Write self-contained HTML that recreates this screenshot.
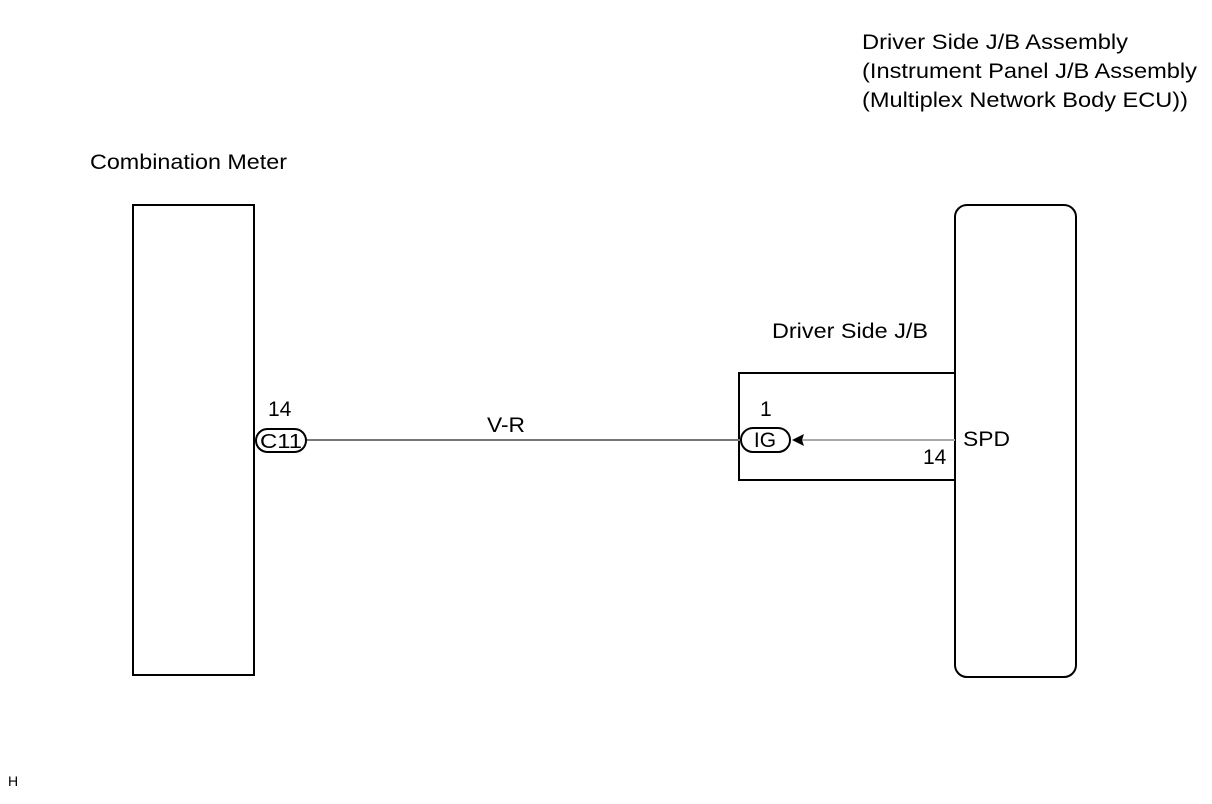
<!DOCTYPE html>
<html><head><meta charset="utf-8"><style>body{margin:0;background:#fff}svg{display:block}text{font-family:"Liberation Sans",Arial,sans-serif;fill:#000}</style></head>
<body>
<svg width="1212" height="804" viewBox="0 0 1212 804">
<text x="862" y="49" font-size="21" textLength="266" lengthAdjust="spacingAndGlyphs">Driver Side J/B Assembly</text>
<text x="862" y="78" font-size="21" textLength="335" lengthAdjust="spacingAndGlyphs">(Instrument Panel J/B Assembly</text>
<text x="862" y="107" font-size="21" textLength="326" lengthAdjust="spacingAndGlyphs">(Multiplex Network Body ECU))</text>
<text x="90" y="169" font-size="21" textLength="197" lengthAdjust="spacingAndGlyphs">Combination Meter</text>
<rect x="133" y="205" width="121" height="470" fill="none" stroke="#000" stroke-width="2"/>
<rect x="955" y="205" width="121" height="472" rx="12" fill="none" stroke="#000" stroke-width="2"/>
<text x="772" y="338" font-size="21" textLength="156" lengthAdjust="spacingAndGlyphs">Driver Side J/B</text>
<rect x="739" y="373" width="216" height="107" fill="none" stroke="#000" stroke-width="2"/>
<line x1="306" y1="440" x2="741" y2="440" stroke="#777" stroke-width="2"/>
<line x1="800" y1="440" x2="955" y2="440" stroke="#aaa" stroke-width="2"/>
<text x="268" y="416" font-size="21">14</text>
<rect x="256" y="429" width="50" height="23" rx="11.5" fill="#fff" stroke="#000" stroke-width="2"/>
<text x="281" y="448" font-size="20" text-anchor="middle" textLength="42" lengthAdjust="spacingAndGlyphs">C11</text>
<text x="487" y="432" font-size="21" textLength="38" lengthAdjust="spacingAndGlyphs">V-R</text>
<text x="760" y="416" font-size="21">1</text>
<rect x="741" y="428" width="49" height="24" rx="12" fill="#fff" stroke="#000" stroke-width="2"/>
<text x="765" y="447" font-size="21" text-anchor="middle">IG</text>
<polygon points="792,440 804,434 802,440 804,446" fill="#000"/>
<text x="923" y="464" font-size="21">14</text>
<text x="963" y="446" font-size="21" textLength="47" lengthAdjust="spacingAndGlyphs">SPD</text>
<text x="8" y="786" font-size="14">H</text>
</svg>
</body></html>
